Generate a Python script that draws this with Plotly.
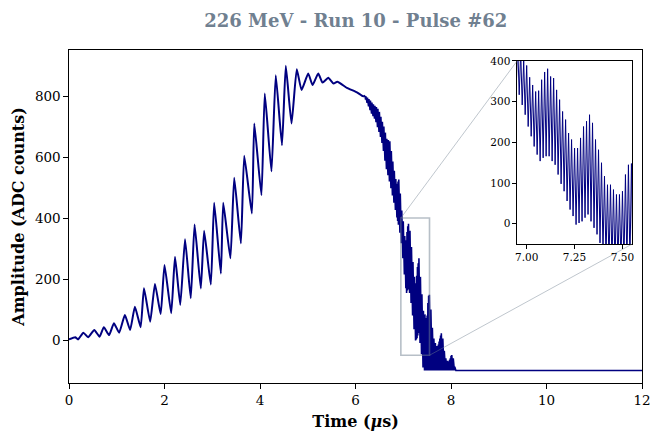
import plotly.graph_objects as go

# ---------------- data ----------------
# slow part of the pulse: local extrema (time in µs, amplitude in ADC counts)
slow_t = [0.00, 0.13, 0.19, 0.30, 0.40, 0.53, 0.64, 0.73, 0.84, 0.94, 1.05, 1.17, 1.28, 1.38,
          1.50, 1.57, 1.70, 1.80, 1.92, 2.00, 2.14, 2.22, 2.33, 2.43, 2.55, 2.63, 2.76, 2.83,
          2.97, 3.04, 3.18, 3.23, 3.38, 3.46, 3.60, 3.67, 3.83, 3.88, 4.03, 4.10, 4.24, 4.33,
          4.46, 4.54, 4.66, 4.77, 4.87, 5.01, 5.10, 5.22, 5.31, 5.43, 5.54, 5.62, 5.82, 6.03,
          6.16, 6.20]
slow_a = [2, 9, 2, 24, 9, 33, 11, 42, 16, 55, 24, 82, 33, 109,
          42, 170, 60, 184, 85, 246, 88, 273, 115, 330, 137, 379, 169, 358,
          182, 450, 218, 450, 268, 532, 317, 604, 415, 710, 475, 808, 553, 868,
          639, 899, 710, 888, 820, 874, 836, 874, 844, 860, 841, 847, 827, 812,
          799, 801]

# fast ringing part: one entry per ringing period (tooth), sampled every tooth_dt µs
tooth_t0 = 6.203
tooth_dt = 0.01563
tooth_top = [801, 799, 797, 795, 793, 790, 788, 785, 782, 779, 776, 773, 770, 768, 766, 764,
             762, 758, 754, 748, 740, 732, 724, 716, 708, 700, 690, 680, 668, 660, 658, 656,
             655, 652, 640, 620, 600, 585, 570, 555, 540, 528, 518, 512, 520, 526, 515, 480,
             440, 425, 400, 389, 360, 341, 325, 327, 354, 373, 381, 362, 358, 329, 305, 276,
             256, 223, 207, 186, 186, 211, 239, 252, 268, 248, 207, 182, 150, 117, 96, 96,
             84, 72, 72, 80, 121, 145, 148, 130, 100, 70, 40, 20, 5, -5, -10, -15,
             -20, -22, -15, -5, 5, 15, 22, 18, 5, -15, -35, -50, -60, -65, -68, -70,
             -70, -65, -60, -52, -49, -52, -60, -75, -88, -95]
tooth_bottom = [788, 782, 778, 772, 766, 760, 754, 748, 742, 738, 734, 730, 726, 720, 714, 706,
                698, 690, 682, 674, 666, 656, 646, 634, 620, 604, 588, 572, 560, 550, 540, 530,
                520, 510, 498, 486, 474, 462, 450, 438, 426, 414, 402, 390, 378, 366, 352, 336,
                317, 292, 268, 239, 215, 190, 170, 154, 162, 166, 166, 154, 145, 121, 98, 80,
                56, 35, 19, -2, 2, 6, 15, 23, 6, -10, -26, -47, -70, -90, -100, -100,
                -100, -100, -100, -100, -100, -100, -100, -100, -100, -100, -100, -100, -100, -100, -100, -100,
                -100, -100, -100, -100, -100, -100, -100, -100, -100, -100, -100, -100, -100, -100, -100, -100,
                -100, -100, -100, -100, -100, -100, -100, -100, -100, -100]

# flat (saturated) tail
tail_t = [8.11, 12.0]
tail_a = [-100, -100]

# zoom window shown in the inset
zoom_x = [6.95, 7.55]
zoom_y = [-50, 400]

title = "226 MeV - Run 10 - Pulse #62"
x_ticks = [0, 2, 4, 6, 8, 10, 12]
y_ticks = [0, 200, 400, 600, 800]
inset_x_ticks = [7.00, 7.25, 7.50]
inset_y_ticks = [0, 100, 200, 300, 400]

# ---------------- build the sawtooth samples from the tooth table ----------------
fast_t, fast_a = [], []
for i, (hi, lo) in enumerate(zip(tooth_top, tooth_bottom)):
    t = tooth_t0 + i * tooth_dt
    fast_t += [t, t + tooth_dt / 2]
    fast_a += [hi, lo]
fast_t += tail_t
fast_a += tail_a

NAVY = "#000080"
FONT = "DejaVu Serif"
XR = [0, 12]
YR = [-141, 951]
IN_XD = [0.782, 0.9825]
IN_YD = [0.417, 0.967]

fig = go.Figure()
fig.add_trace(go.Scatter(x=slow_t, y=slow_a, mode="lines",
                         line=dict(color=NAVY, width=2, shape="spline", smoothing=0.45),
                         showlegend=False, hoverinfo="skip"))
fig.add_trace(go.Scatter(x=[slow_t[-1]] + fast_t, y=[slow_a[-1]] + fast_a, mode="lines",
                         line=dict(color=NAVY, width=1.6),
                         showlegend=False, hoverinfo="skip"))
# inset
fig.add_trace(go.Scatter(x=fast_t, y=fast_a, mode="lines", xaxis="x2", yaxis="y2",
                         line=dict(color=NAVY, width=1),
                         showlegend=False, hoverinfo="skip"))

GRAYLINE = "rgba(112,128,144,0.45)"
# zoom rectangle in main axes
fig.add_shape(type="rect", xref="x", yref="y", x0=zoom_x[0], x1=zoom_x[1], y0=zoom_y[0], y1=zoom_y[1],
              line=dict(color="rgba(112,128,144,0.5)", width=1.6), layer="above")


def px(xv):
    return (xv - XR[0]) / (XR[1] - XR[0])


def py(yv):
    return (yv - YR[0]) / (YR[1] - YR[0])


# connector lines (rectangle corners -> inset corners)
fig.add_shape(type="line", xref="paper", yref="paper",
              x0=px(zoom_x[0]), y0=py(zoom_y[1]), x1=IN_XD[0], y1=IN_YD[1],
              line=dict(color=GRAYLINE, width=1), layer="above")
fig.add_shape(type="line", xref="paper", yref="paper",
              x0=px(zoom_x[1]), y0=py(zoom_y[0]), x1=IN_XD[1], y1=IN_YD[0],
              line=dict(color=GRAYLINE, width=1), layer="above")

axis_common = dict(showline=True, linecolor="black", linewidth=1.2, mirror=True, automargin=False,
                   ticks="outside", tickcolor="black", showgrid=False, zeroline=False)

fig.update_layout(
    width=651, height=434,
    margin=dict(l=69, r=9, t=50, b=51, autoexpand=False),
    paper_bgcolor="white", plot_bgcolor="white",
    font=dict(family=FONT, color="black"),
    title=dict(text="<b>" + title + "</b>", x=0.5465, xanchor="center", y=0.952, yanchor="middle",
               yref="container", font=dict(size=18, color="slategray", family=FONT)),
    xaxis=dict(range=XR, tickvals=x_ticks, ticklen=4.5, tickwidth=1, tickfont=dict(size=13.5),
               title=dict(text="<b>Time (<i>μ</i>s)</b>", font=dict(size=16), standoff=9),
               **axis_common),
    yaxis=dict(range=YR, tickvals=y_ticks, ticklen=4.5, tickwidth=1, tickfont=dict(size=13.5),
               title=dict(text="<b>Amplitude (ADC counts)</b>", font=dict(size=16), standoff=6),
               **axis_common),
    xaxis2=dict(domain=IN_XD, anchor="y2", range=zoom_x, tickvals=inset_x_ticks, tickformat=".2f",
                ticklen=3.5, tickwidth=0.8, tickfont=dict(size=10.5), **axis_common),
    yaxis2=dict(domain=IN_YD, anchor="x2", range=zoom_y, tickvals=inset_y_ticks,
                ticklen=3.5, tickwidth=0.8, tickfont=dict(size=10.5), **axis_common),
)

fig.write_html("out.html", config={"displayModeBar": False},
               post_script="document.body.style.margin='0';document.body.style.overflow='hidden';")
